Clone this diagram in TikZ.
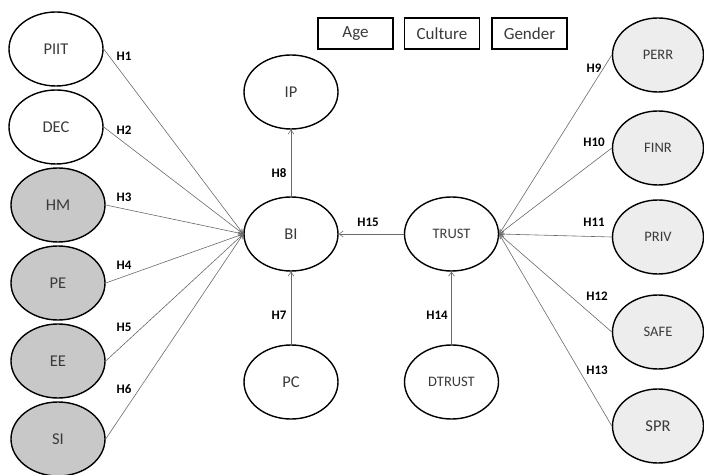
\documentclass[tikz,border=0pt]{standalone}
\usepackage{fontspec}
\setmainfont{Carlito}
\usetikzlibrary{shapes.geometric,arrows.meta}
\definecolor{darkfill}{HTML}{C8C8C8}
\definecolor{lightfill}{HTML}{EDEDED}
\definecolor{txt}{HTML}{3A3A3A}
\definecolor{linegray}{HTML}{6A6A6A}
\tikzset{
  var/.style={ellipse,draw=black,line width=1.4bp,minimum width=94bp,minimum height=74bp,inner sep=0pt,text=txt,font=\fontsize{16.5bp}{18bp}\selectfont},
  varsmall/.style={var,font=\fontsize{14.5bp}{16bp}\selectfont},
  ctrl/.style={draw=black,line width=1.4bp,minimum width=75bp,minimum height=31bp,inner sep=0pt,text=txt,font=\fontsize{17bp}{19bp}\selectfont},
  hyp/.style={font=\bfseries\fontsize{13bp}{15bp}\selectfont,text=black,inner sep=0pt},
  link/.style={draw=linegray,line width=0.6bp,-{Straight Barb[length=4bp,width=6bp]}},
}
\begin{document}
\begin{tikzpicture}[x=1bp,y=-1bp]
\useasboundingbox (0,0) rectangle (704,475);
% left column
\node[var] (PIIT) at (56,49) {PIIT};
\node[var] (DEC) at (56,127) {DEC};
\node[var,fill=darkfill] (HM) at (58,205) {HM};
\node[var,fill=darkfill] (PE) at (58,283) {PE};
\node[var,fill=darkfill] (EE) at (58,361) {EE};
\node[var,fill=darkfill] (SI) at (58,439) {SI};
% centre
\node[var] (IP) at (291,92) {IP};
\node[var] (BI) at (291,234) {BI};
\node[var] (PC) at (291,382) {PC};
\node[varsmall] (TRUST) at (451.5,234) {TRUST};
\node[varsmall] (DTRUST) at (451.5,382) {DTRUST};
% right column
\node[varsmall,fill=lightfill,minimum width=91bp] (PERR) at (658,55) {PERR};
\node[varsmall,fill=lightfill,minimum width=91bp] (FINR) at (658,148) {FINR};
\node[varsmall,fill=lightfill,minimum width=91bp] (PRIV) at (658,237) {PRIV};
\node[varsmall,fill=lightfill,minimum width=91bp] (SAFE) at (658,332) {SAFE};
\node[var,fill=lightfill,minimum width=91bp] (SPR) at (658,426) {SPR};
% control boxes
\node[ctrl] (Age) at (355.5,33.5) {Age};
\node[ctrl] (Culture) at (442,33.5) {Culture};
\node[ctrl] (Gender) at (529.5,33.5) {Gender};
% links
\draw[link] (PIIT.east) -- (BI.west);
\draw[link] (DEC.east) -- (BI.west);
\draw[link] (HM.east) -- (BI.west);
\draw[link] (PE.east) -- (BI.west);
\draw[link] (EE.east) -- (BI.west);
\draw[link] (SI.east) -- (BI.west);
\draw[link] (BI.north) -- (IP.south);
\draw[link] (PC.north) -- (BI.south);
\draw[link] (TRUST.west) -- (BI.east);
\draw[link] (DTRUST.north) -- (TRUST.south);
\draw[link] (PERR.west) -- (TRUST.east);
\draw[link] (FINR.west) -- (TRUST.east);
\draw[link] (PRIV.west) -- (TRUST.east);
\draw[link] (SAFE.west) -- (TRUST.east);
\draw[link] (SPR.west) -- (TRUST.east);
% hypothesis labels
\node[hyp] (h1) at (124,56) {H1};
\node[hyp] (h2) at (124,130) {H2};
\node[hyp] (h3) at (124,197) {H3};
\node[hyp] (h4) at (124,265) {H4};
\node[hyp] (h5) at (124,327) {H5};
\node[hyp] (h6) at (124,389) {H6};
\node[hyp] (h7) at (279,315) {H7};
\node[hyp] (h8) at (279,173) {H8};
\node[hyp] (h9) at (594,68) {H9};
\node[hyp] (h10) at (594,142) {H10};
\node[hyp] (h11) at (594,222) {H11};
\node[hyp] (h12) at (597,296) {H12};
\node[hyp] (h13) at (597,370) {H13};
\node[hyp] (h14) at (437,315) {H14};
\node[hyp] (h15) at (368,222) {H15};
\end{tikzpicture}
\end{document}
